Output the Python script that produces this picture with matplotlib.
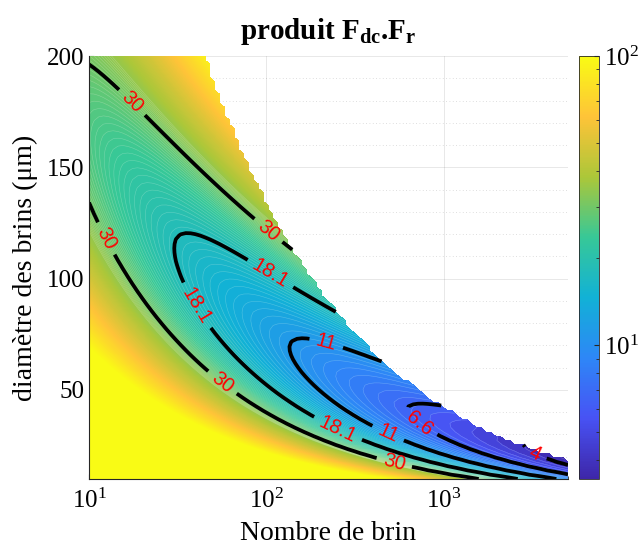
import numpy as np
import matplotlib
matplotlib.use('Agg')
import matplotlib.pyplot as plt
from matplotlib.colors import LinearSegmentedColormap, LogNorm
from matplotlib.cm import ScalarMappable
from matplotlib.ticker import FixedLocator, MultipleLocator, NullFormatter

plt.rcParams['font.family'] = ['Liberation Serif', 'DejaVu Serif']
plt.rcParams['mathtext.fontset'] = 'custom'
plt.rcParams['mathtext.rm'] = 'Liberation Serif'
plt.rcParams['mathtext.it'] = 'Liberation Serif:italic'
plt.rcParams['mathtext.bf'] = 'Liberation Serif:bold'

# computation grid: number of strands (log) and strand diameter in um
n_range = (10, 5000)
d_range = (10, 200)
n_pts, d_pts = 100, 100

# surface Fdc.Fr ~ A/(n d^2) + B n d^4, constants
coef_dc = 4.7e6
coef_prox = 1.2e-9
# winding window: n d^2 above this does not fit (white zone)
window_limit = 1.85e6

label_levels = [4, 6.6, 11, 18.1, 30]
fill_levels = np.arange(3.0, 100.5, 0.5)
seam_levels = np.arange(3.0, 35.0, 0.5)
color_limits = (3.45, 100)

# where the red labels sit (n, d)
label_spots = [(17.4, 179), (101, 121), (11.8, 117), (56, 53), (524, 17.2),
               (104, 101.6), (38.4, 86.8), (247, 31), (217, 71), (479, 29.7),
               (705, 33.3), (3206, 19.9)]

# parula(8)
parula_anchors = [
    (0.2422, 0.1504, 0.6603),
    (0.2810, 0.3228, 0.9579),
    (0.1786, 0.5289, 0.9682),
    (0.0689, 0.6948, 0.8394),
    (0.2161, 0.7843, 0.5923),
    (0.6720, 0.7793, 0.2227),
    (0.9970, 0.7659, 0.2199),
    (0.9769, 0.9839, 0.0805),
]
parula = LinearSegmentedColormap.from_list('parula', parula_anchors, N=256)
parula.set_over(parula_anchors[-1])
parula.set_under(parula_anchors[0])

n = np.logspace(np.log10(n_range[0]), np.log10(n_range[1]), n_pts)
d = np.linspace(d_range[0], d_range[1], d_pts)
N, D = np.meshgrid(n, d)
F = coef_dc / (N * D**2) + coef_prox * N * D**4
F = np.ma.masked_where(N * D**2 > window_limit, F)

norm = LogNorm(vmin=color_limits[0], vmax=color_limits[1])

fig = plt.figure(figsize=(6.39, 5.58), dpi=100)
ax = fig.add_axes([89 / 639, 79 / 558, 479 / 639, 423 / 558])
cax = fig.add_axes([579 / 639, 79 / 558, 20 / 639, 423 / 558])

# scale and limits first, so the labels are oriented in screen space
ax.set_xscale('log')
ax.set_xlim(*n_range)
ax.set_ylim(*d_range)

ax.contourf(N, D, F, levels=fill_levels, cmap=parula, norm=norm,
            extend='max', antialiased=False)
ax.contour(N, D, F, levels=seam_levels, colors='white', linewidths=0.4, alpha=0.25)
cs = ax.contour(N, D, F, levels=label_levels, colors='black', linewidths=2.7)

with plt.rc_context({'font.family': ['Liberation Sans', 'DejaVu Sans']}):
    ax.clabel(cs, fmt={v: f'{v:g}' for v in label_levels}, manual=label_spots,
              inline=True, inline_spacing=7, fontsize=14.5, colors='red')

ax.yaxis.set_major_locator(FixedLocator([50, 100, 150, 200]))
ax.yaxis.set_minor_locator(MultipleLocator(10))
ax.set_axisbelow(True)
ax.grid(True, which='major', color='0.15', alpha=0.12, linewidth=0.6)
ax.grid(True, which='minor', axis='y', color='0.15', alpha=0.2,
        linewidth=0.6, linestyle=(0, (1, 3)))

for side in ['top', 'right']:
    ax.spines[side].set_visible(False)
for side in ['left', 'bottom']:
    ax.spines[side].set_color('0.15')
    ax.spines[side].set_linewidth(0.8)
ax.tick_params(which='both', direction='in', colors='0.15', labelsize=18,
               labelcolor='black')
ax.tick_params(axis='x', pad=7)

ax.set_xlabel('Nombre de brin', fontsize=20, labelpad=6)
ax.set_ylabel('diamètre des brins (μm)', fontsize=20, labelpad=6)
ax.set_title(r'produit $\mathbf{F_{dc}}$.$\mathbf{F_{r}}$', fontsize=21,
             fontweight='bold', pad=12)

cb = fig.colorbar(ScalarMappable(norm=norm, cmap=parula), cax=cax)
cb.outline.set_edgecolor('0.15')
cb.outline.set_linewidth(0.6)
cax.yaxis.set_major_locator(FixedLocator([10, 100]))
cax.yaxis.set_minor_locator(FixedLocator([4, 5, 6, 7, 8, 9, 20, 30, 40, 50, 60, 70, 80, 90]))
cax.yaxis.set_minor_formatter(NullFormatter())
cax.tick_params(which='both', direction='in', colors='0.15', labelsize=18,
                labelcolor='black')

fig.savefig('out.png', dpi=100)
